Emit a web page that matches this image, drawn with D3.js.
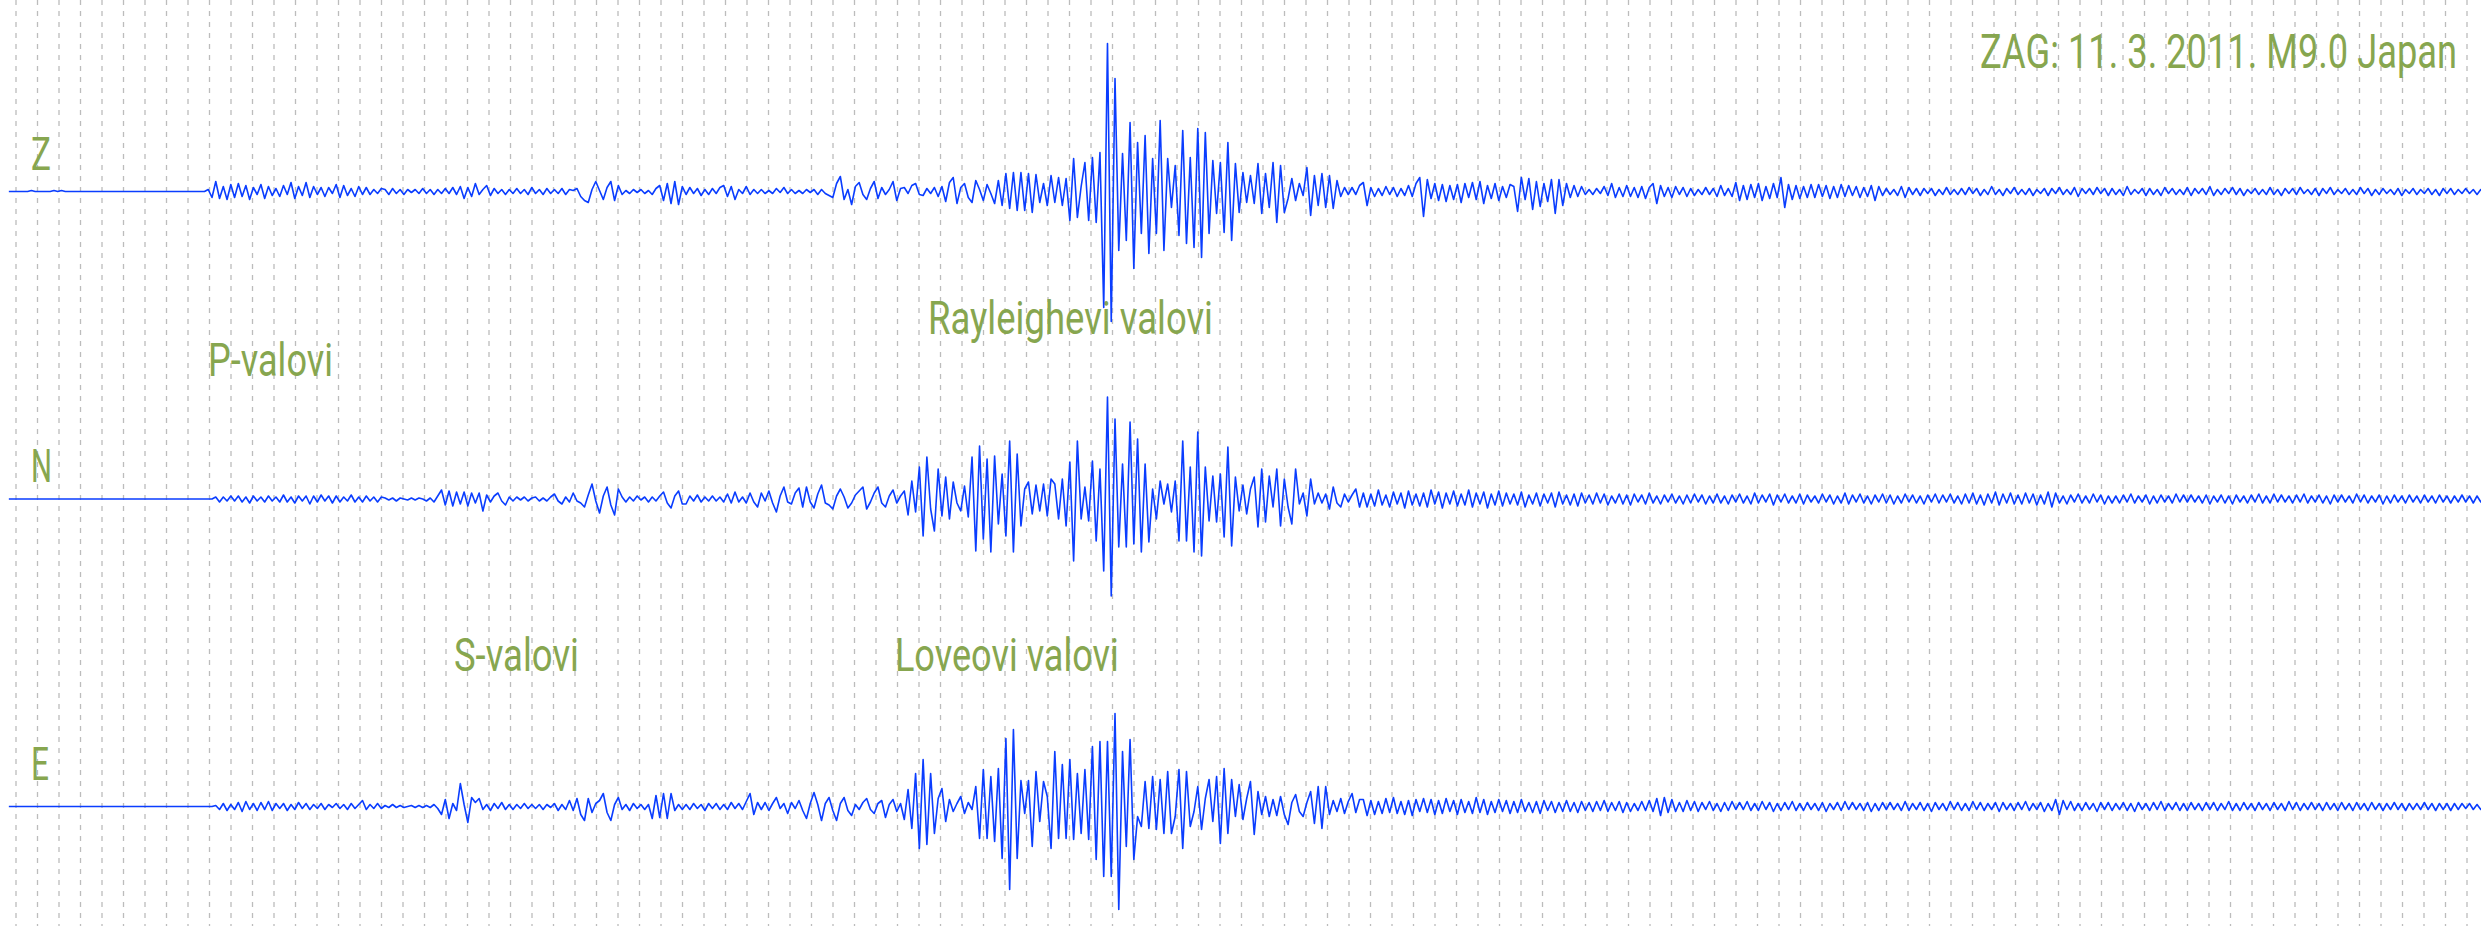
<!DOCTYPE html>
<html>
<head>
<meta charset="utf-8">
<script src="https://cdn.jsdelivr.net/npm/d3@7"></script>
<style>
  html, body { margin: 0; padding: 0; background: #ffffff; }
  svg { display: block; }
</style>
</head>
<body>
<svg id="chart" width="2481" height="926"></svg>
<script>
// Station ZAG, three-component seismogram of the 11 March 2011 M9.0 Japan earthquake.
const channels = ["Z", "N", "E"];
const gridMinutes = d3.range(0, 115);      // one dashed line per minute
const sampleInterval = 10.5;               // seconds between samples
const recordStart = -20;                   // seconds, relative to the first minute line
const titleText = "ZAG: 11. 3. 2011. M9.0 Japan";
const phaseNames = ["P-valovi", "S-valovi", "Rayleighevi valovi", "Loveovi valovi"];
const phaseMinutes = [8.93, 20.37, 42.42, 40.88];

// Ground motion, counts (positive = up), one sample every 10.5 s
const traceZ = [
  0,0,0,0,0,0,1,0,0,0,0,0,1,0,1,0,0,0,0,0,
  0,0,0,0,0,0,0,0,0,0,0,0,0,0,0,0,0,0,0,0,
  0,0,0,0,0,0,0,0,0,0,0,0,0,2,-6,10,-7,5,-8,7,
  -6,8,-5,6,-8,4,-3,7,-7,5,-4,3,-5,6,-3,9,-7,5,-4,9,
  -6,5,-3,4,-5,4,-2,7,-6,6,-4,3,-5,5,-3,4,-3,2,-2,3,
  2,-3,3,-2,2,-3,2,-1,2,-2,3,-2,2,-3,2,-2,3,-2,4,-3,
  5,-7,4,-5,8,-3,2,6,-4,3,-2,2,-3,2,-2,3,-2,2,-3,4,
  -2,2,-3,3,-2,2,-2,3,-3,2,1,3,-5,-9,-11,2,10,1,-8,4,
  10,-9,6,-3,1,-2,2,-1,2,-2,1,-3,3,6,-9,8,-12,10,-13,5,
  -3,4,-2,3,-4,2,-3,3,-2,4,6,-5,5,-8,2,-2,5,-3,2,-2,
  2,-2,1,-2,3,-1,4,-2,2,-2,1,-2,2,-1,2,-3,2,-2,-4,-6,
  8,15,-8,2,-13,5,9,-3,-8,3,10,-7,4,-3,2,10,-9,3,4,-2,
  6,8,-3,-4,3,-2,4,-5,5,-10,9,14,-12,4,8,-6,-11,11,2,-9,
  7,-2,-12,11,-14,18,-17,19,-19,19,-19,18,-21,17,-11,8,-14,16,-11,14,
  -14,13,-29,33,-26,5,29,-29,34,-31,39,-116,148,-130,113,-59,38,-49,69,-77,
  49,-42,56,-62,33,-42,71,-59,33,-16,26,-44,61,-52,34,-56,63,-66,59,-42,
  31,-22,29,-41,49,-49,28,-21,19,-11,16,-12,28,-22,18,-16,29,-31,26,-21,
  -7,13,-9,8,-4,24,-24,16,-14,18,-16,16,-17,11,-5,4,-3,4,-3,6,
  9,-14,4,-5,3,-4,5,-3,4,-5,3,-4,6,-5,8,14,-25,12,-7,8,
  -9,7,-10,6,-8,7,-11,8,-6,9,-8,10,-12,6,-7,8,-9,5,-6,7,
  5,-20,14,-8,13,-18,10,-15,8,-10,12,-22,12,-14,8,-6,6,-5,5,-3,
  2,-3,3,-2,5,-4,8,-6,4,-5,6,-5,4,-6,5,-7,4,8,-12,6,
  -5,4,-6,5,-3,4,-5,3,-4,2,-3,4,-3,3,-5,6,-4,3,-5,9,
  -9,6,-8,7,-6,8,-9,5,-7,8,-6,14,-16,7,-8,6,-7,5,-6,7,
  -6,7,-5,6,-7,5,-6,7,-5,6,-4,5,-6,4,-5,6,-9,5,-4,3,
  -3,2,-4,5,-6,4,-3,3,-4,3,-2,3,-4,2,-3,4,-3,2,-3,3,
  -3,4,-2,3,-4,2,-3,5,-3,2,-4,3,-2,4,-3,2,-3,3,-4,2,
  -2,3,-4,3,-2,4,-3,2,-3,4,-5,3,-2,3,-3,4,-2,3,-4,3,
  -3,2,-4,5,-3,2,-2,3,-4,3,-3,2,-4,4,-2,3,-3,2,-3,4,
  -4,3,-2,3,-3,5,-4,2,-3,3,-2,4,-3,3,-4,2,-2,3,-3,2,
  -3,4,-3,2,-4,3,-2,3,-3,4,-2,2,-3,3,-4,3,-2,4,-3,2,
  -2,3,-3,2,-3,4,-2,3,-4,2,-3,3,-2,2,-3,3,-4,2,-2,3,
  -3,2,-2,3,-3,2,-4,3,-2,3,-3,2,-2,3,-2,2,-3,2,-2,2
];

const traceN = [
  0,0,0,0,0,0,0,0,0,0,0,0,0,0,0,0,0,0,0,0,
  0,0,0,0,0,0,0,0,0,0,0,0,0,0,0,0,0,0,0,0,
  0,0,0,0,0,0,0,0,0,0,0,0,0,0,0,2,-3,2,-2,3,
  -2,3,-3,2,-4,3,-2,2,-3,3,-2,2,-3,4,-3,2,-4,3,-2,3,
  -5,3,-3,4,-2,3,-4,3,-3,2,-2,4,-3,2,-3,3,-2,2,-3,2,
  1,-1,1,-2,1,0,-1,1,-1,1,0,-2,1,-3,3,9,-6,8,-7,7,
  -5,7,-7,6,-4,6,-12,4,-3,3,6,-2,-6,2,-2,2,-1,2,-2,1,
  2,-2,1,-2,2,5,-2,-5,2,-3,6,-2,-4,-8,4,15,-2,-14,3,12,
  -6,-16,10,2,-3,2,-2,3,-1,2,-3,2,-2,3,7,-4,-9,3,8,-5,
  -5,3,-2,4,-3,2,-2,3,-2,2,-3,5,-4,7,-3,2,-4,6,-3,-8,
  6,-2,8,-4,-13,3,12,-3,-5,6,11,-8,12,-3,-9,5,14,-4,-6,-10,
  3,10,2,-9,-4,4,8,12,-10,-3,6,12,-4,-8,3,9,-4,3,8,-16,
  18,-13,32,-37,42,-10,-32,30,-17,22,-20,17,-4,-12,13,-18,42,-52,53,-40,
  40,-53,43,-25,25,-37,58,-53,45,-27,10,17,-15,14,-12,15,-17,20,15,-20,
  20,-27,37,-62,58,-20,12,-22,38,-42,30,-72,102,-97,80,-48,35,-48,77,-45,
  60,-53,35,-43,10,-20,18,-5,15,-13,18,-42,58,-42,32,-53,67,-57,32,-22,
  23,-23,25,-38,52,-47,22,-12,14,-15,10,22,-28,30,-23,23,-8,30,-27,20,
  -8,-25,30,-5,6,-17,20,-5,6,-4,5,-10,12,-4,-8,5,-3,4,10,-8,
  6,-8,5,-7,9,-6,4,-8,7,-5,6,-9,8,-6,5,-7,6,-8,9,-5,
  7,-9,6,-5,8,-7,5,-6,9,-8,6,-5,7,-9,5,-6,8,-7,6,-5,
  5,-6,7,-8,4,-5,6,-7,5,-4,6,-8,7,-5,4,-6,5,-7,6,-4,
  4,-5,6,-4,5,-6,3,-4,5,-5,4,-6,5,-3,4,-5,6,-4,3,-5,
  4,-3,5,-4,3,-5,4,-4,5,-3,4,-5,3,-4,5,-4,3,-5,4,-3,
  5,-4,3,-5,6,-4,4,-3,5,-6,4,-3,5,-4,3,-4,5,-5,4,-3,
  3,-4,5,-3,4,-5,3,-4,6,-5,4,-3,5,-4,3,-5,4,-3,5,-4,
  4,-5,3,-4,5,-3,4,-4,3,-5,4,-3,5,-4,4,-3,5,-4,3,-5,
  5,-4,6,-5,4,-6,5,-4,7,-6,5,-4,6,-5,4,-5,6,-4,5,-6,
  4,-5,7,-8,6,-4,3,-5,4,-3,5,-4,3,-4,5,-3,4,-5,3,-4,
  3,-4,4,-3,5,-4,3,-3,4,-5,3,-4,4,-3,3,-4,5,-3,4,-3,
  4,-3,3,-4,4,-5,3,-3,4,-4,3,-5,4,-3,3,-4,4,-3,5,-4,
  3,-4,5,-3,4,-3,3,-4,4,-3,5,-4,3,-3,4,-4,3,-5,4,-3,
  4,-3,3,-4,5,-3,4,-4,3,-3,4,-5,3,-4,4,-3,3,-4,4,-3,
  3,-4,4,-3,3,-4,4,-3,3,-4,3,-3,4,-3,3,-4,3,-3,3,-2
];

const traceE = [
  0,0,0,0,0,0,0,0,0,0,0,0,0,0,0,0,0,0,0,0,
  0,0,0,0,0,0,0,0,0,0,0,0,0,0,0,0,0,0,0,0,
  0,0,0,0,0,0,0,0,0,0,0,0,0,0,0,1,-3,3,-4,2,
  -3,4,-5,5,-3,3,-4,4,-3,5,-4,3,-2,3,-4,2,-3,4,-2,3,
  -3,2,-2,3,-3,2,-1,3,-2,2,-3,3,-2,2,6,-3,2,-2,3,-2,
  1,-1,2,-1,1,-1,0,1,-1,1,-1,1,-1,2,-2,-8,7,-12,3,-4,
  23,2,-16,9,4,8,-3,2,-4,3,-2,4,-3,2,-3,2,-2,3,-2,2,
  -2,2,-3,2,-1,3,-4,2,-3,6,-4,8,-8,-14,8,-6,3,6,13,-6,
  -14,2,9,-3,2,-4,3,-2,2,-3,2,-12,11,-11,13,-12,13,-4,2,-3,
  2,-3,3,-2,2,-4,3,-2,3,-3,2,-3,4,-2,3,-3,5,13,-8,4,
  -3,4,-4,3,9,-2,3,-7,4,-2,6,-4,-12,3,14,2,-14,3,9,-4,
  -14,3,9,-4,-9,2,-3,4,8,-3,-7,3,6,-11,2,7,-5,3,-13,17,
  -22,33,-42,47,-38,33,-27,8,18,-15,7,-5,3,10,-7,4,-3,20,-32,37,
  -32,30,-35,38,-52,68,-83,77,-52,26,-7,26,-40,35,-15,25,10,-42,55,-32,
  42,-32,47,-33,33,-27,37,-33,60,-53,65,-70,65,-70,93,-103,55,-40,67,-53,
  -10,-20,25,-22,30,-23,27,-27,35,-27,-10,37,-42,35,-20,-5,20,-23,8,27,
  -15,30,-37,38,-27,27,-10,22,-13,8,25,-28,15,-8,10,-10,7,-9,10,-8,
  -18,4,12,-5,-10,4,15,-17,20,-22,20,-8,6,-5,8,-7,5,13,-6,7,
  7,-9,6,-8,5,-7,8,-6,9,-7,5,-8,6,-9,7,-5,8,-6,7,-8,
  6,-7,8,-5,6,-8,7,-6,5,-7,9,-6,7,-8,5,-6,7,-5,6,-7,
  5,-6,7,-5,4,-6,5,-7,6,-4,5,-6,4,-5,6,-5,4,-6,5,-4,
  4,-5,5,-4,6,-5,4,-4,5,-6,4,-5,3,-4,5,-4,6,-5,8,-9,
  9,-6,7,-5,4,-5,6,-4,5,-5,4,-3,5,-4,3,-5,4,-4,5,-3,
  4,-3,5,-4,3,-4,5,-3,4,-5,3,-4,4,-3,5,-4,3,-4,4,-3,
  3,-4,4,-5,3,-3,4,-4,5,-3,4,-3,3,-4,4,-5,3,-4,4,-3,
  4,-3,3,-4,5,-4,3,-3,4,-4,3,-5,4,-3,3,-4,5,-3,4,-4,
  3,-4,5,-3,4,-4,3,-3,4,-5,4,-3,3,-4,4,-3,5,-4,3,-3,
  4,-5,3,-4,7,-8,6,-3,5,-4,3,-4,4,-3,3,-5,4,-3,4,-4,
  3,-3,4,-4,3,-5,4,-3,3,-4,4,-3,5,-4,3,-3,4,-4,3,-4,
  4,-3,3,-4,4,-3,4,-4,3,-3,5,-4,3,-4,4,-3,3,-4,4,-3,
  3,-4,4,-3,3,-4,5,-3,4,-4,3,-3,4,-3,3,-4,4,-3,3,-4,
  4,-3,3,-4,4,-3,3,-4,4,-3,3,-4,3,-3,4,-3,3,-4,3,-3,
  3,-3,4,-3,3,-4,3,-3,3,-4,3,-3,3,-2,3,-3,2,-3,3,-2
];

const traces = { Z: traceZ, N: traceN, E: traceE };

// ---- layout ----
const width = 2481, height = 926;
const ink = "#0a3dff";
const labelColor = "#87a64f";
const labelFont = "Roboto, 'Noto Sans', sans-serif";

const svg = d3.select("#chart");

const x = d3.scaleLinear().domain([0, 114]).range([16, 2467]);
const lane = d3.scalePoint().domain(channels).range([191.5, 806.5]);
const amp = d3.scaleLinear().domain([-150, 150]).range([150, -150]);
const minuteOf = i => (recordStart + i * sampleInterval) / 60;

// dashed minute lines
svg.append("g")
  .selectAll("line")
  .data(gridMinutes)
  .join("line")
  .attr("x1", d => x(d)).attr("x2", d => x(d))
  .attr("y1", 0).attr("y2", height)
  .attr("stroke", "#bcbcbc")
  .attr("stroke-width", 1.3)
  .attr("stroke-dasharray", "5,6");

// text labels in a narrow (condensed) setting
const labels = svg.append("g")
  .attr("font-family", labelFont)
  .attr("fill", labelColor);

// squeeze a text horizontally to the given width, anchored at (tx, ty)
function condense(sel, tx, ty, targetWidth) {
  sel.each(function (d, i) {
    const w = this.getComputedTextLength();
    const sx = w > 0 ? targetWidth(d, i) / w : 1;
    d3.select(this)
      .attr("x", 0).attr("y", 0)
      .attr("transform", `translate(${tx(d, i)},${ty(d, i)}) scale(${sx},1)`);
  });
}

// channel names, sitting above each trace
const channelLabelBase = { Z: 170, N: 482, E: 780 };
const channelLabelWidth = { Z: 20, N: 21, E: 18 };
labels.selectAll("text.channel")
  .data(channels)
  .join("text")
  .attr("class", "channel")
  .attr("font-size", 46)
  .text(d => d)
  .call(condense, () => 31, d => channelLabelBase[d], d => channelLabelWidth[d]);

// wave phase annotations
const phaseBaseline = [375.7, 670.5, 334, 670.5];
const phaseWidth = [125, 125, 285, 224];
labels.selectAll("text.phase")
  .data(phaseNames)
  .join("text")
  .attr("class", "phase")
  .attr("font-size", 46)
  .text(d => d)
  .call(condense, (d, i) => x(phaseMinutes[i]), (d, i) => phaseBaseline[i], (d, i) => phaseWidth[i]);

// title, right-aligned near the top edge
labels.append("text")
  .attr("class", "title")
  .attr("text-anchor", "end")
  .attr("font-size", 49)
  .text(titleText)
  .call(condense, () => 2457, () => 67.8, () => 477);

// seismogram traces
channels.forEach(ch => {
  const base = lane(ch);
  const line = d3.line()
    .x((d, i) => x(minuteOf(i)))
    .y(d => base + amp(d));
  svg.append("path")
    .datum(traces[ch])
    .attr("d", line)
    .attr("fill", "none")
    .attr("stroke", ink)
    .attr("stroke-width", 1.6)
    .attr("stroke-linejoin", "round");
});
</script>
</body>
</html>
